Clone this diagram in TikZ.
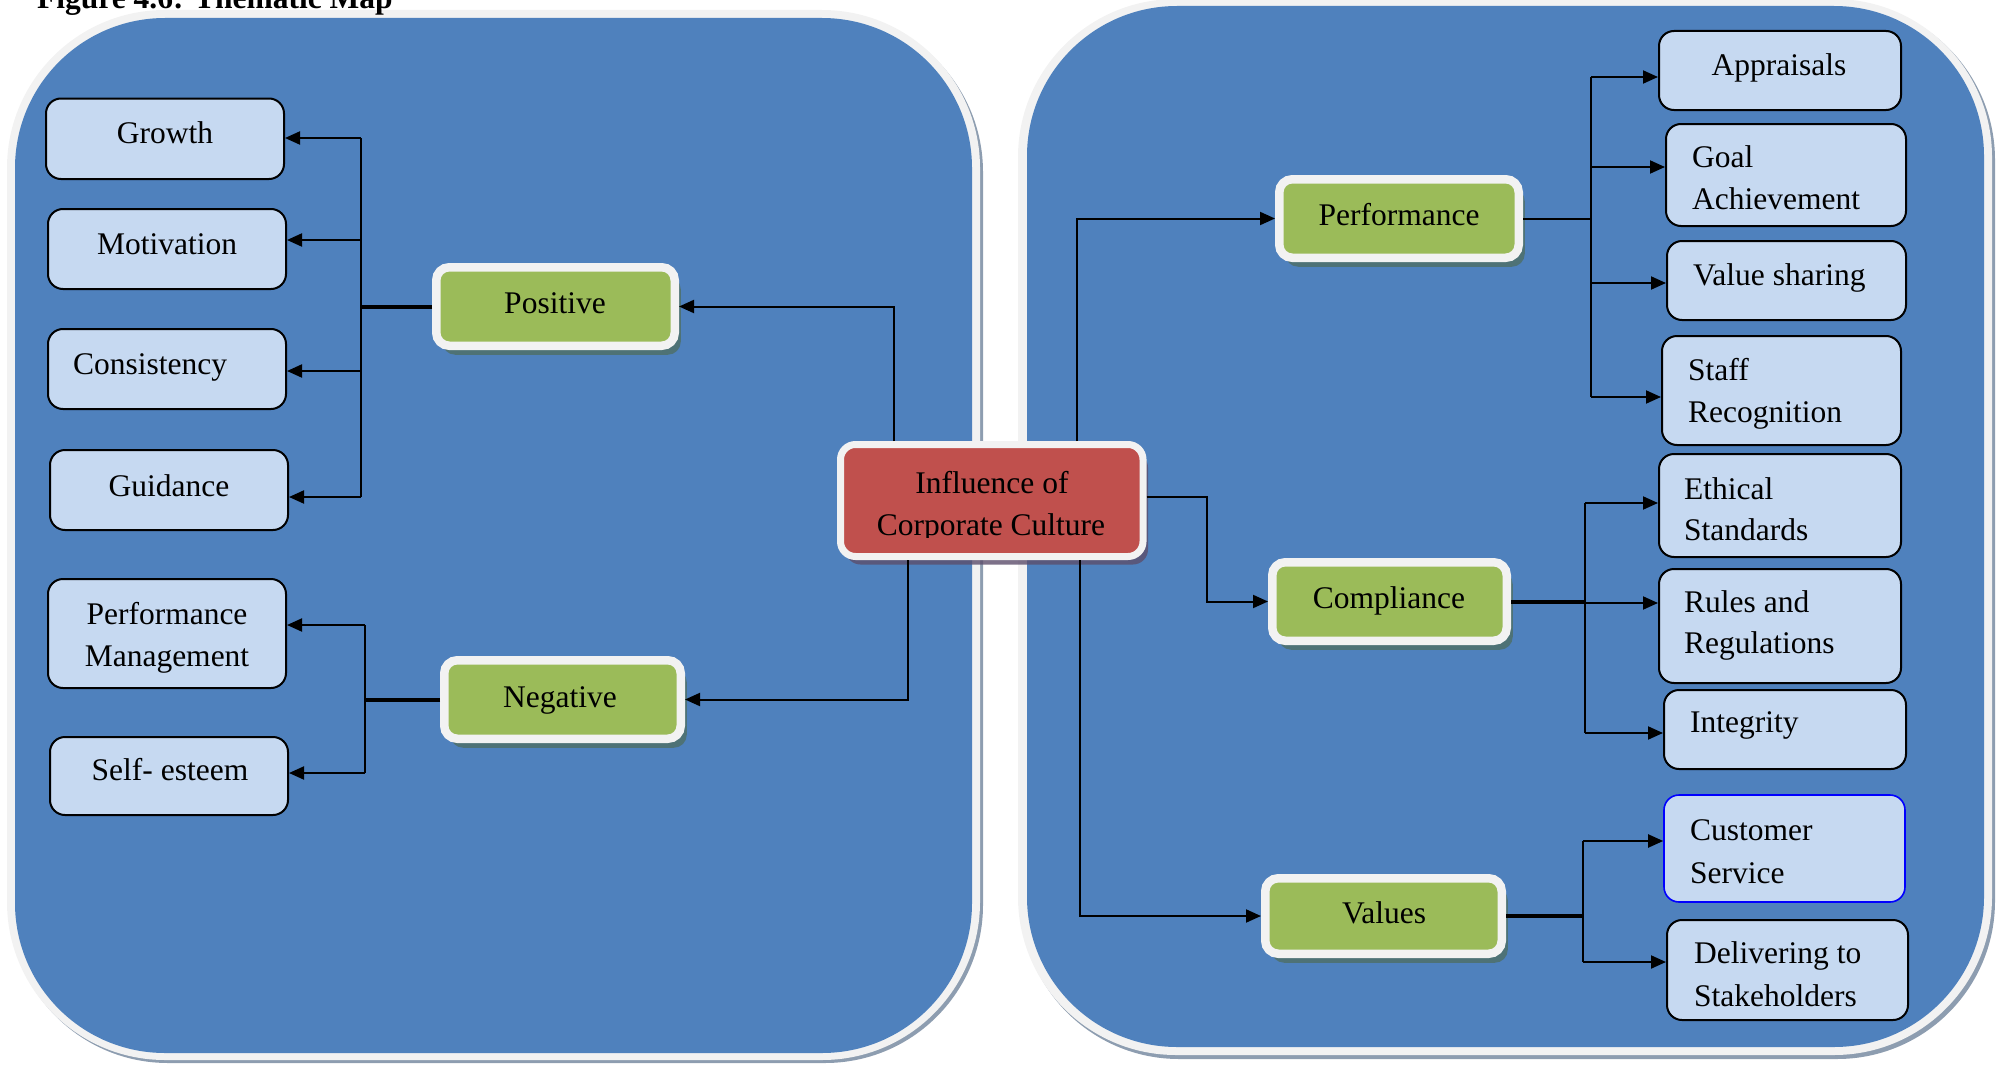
\documentclass[tikz,border=0pt]{standalone}
\usepackage{fontspec}
\setmainfont{Liberation Serif}
\usetikzlibrary{arrows.meta,fit,shadows}
\definecolor{panelblue}{RGB}{79,129,189}
\definecolor{ringwhite}{RGB}{242,242,242}
\definecolor{panelshade}{RGB}{141,157,176}
\definecolor{leaffill}{RGB}{198,217,241}
\definecolor{themegreen}{RGB}{155,187,89}
\definecolor{themered}{RGB}{192,80,77}
\definecolor{greenshade}{RGB}{78,114,118}
\definecolor{redshade}{RGB}{92,78,108}
\definecolor{edgeblue}{RGB}{0,0,255}

\begin{document}
\begin{tikzpicture}[x=1pt,y=-1pt,
  txt/.style={inner sep=0pt, font=\fontsize{31.5}{42}\selectfont},
  leaf/.style={draw=black, fill=leaffill, line width=2pt, rounded corners=15pt, inner sep=0pt},
  theme/.style={draw=ringwhite, fill=themegreen, line width=8.5pt, rounded corners=13pt, inner sep=0pt,
    drop shadow={shadow xshift=6pt, shadow yshift=-9pt, fill=greenshade, opacity=1}},
  core/.style={draw=ringwhite, fill=themered, line width=7pt, rounded corners=15pt, inner sep=0pt,
    drop shadow={shadow xshift=5pt, shadow yshift=-8pt, fill=redshade, opacity=0.8}},
  conn/.style={line width=2pt, -{Triangle[length=15pt,width=13pt]}},
  link/.style={line width=2pt},
  heavy/.style={line width=4pt},
]
\useasboundingbox (0,0) rectangle (1998,1065);

% background panels
\fill[panelshade, rounded corners=158pt] (10,14) rectangle (983,1063);
\fill[ringwhite, rounded corners=158pt] (7,10) rectangle (980,1060);
\fill[panelblue, rounded corners=150pt] (15,18) rectangle (972,1053);

\fill[panelshade, rounded corners=158pt] (1021,2) rectangle (1995,1059);
\fill[ringwhite, rounded corners=158pt] (1018,-1) rectangle (1992,1055);
\fill[panelblue, rounded corners=150pt] (1027,6) rectangle (1984,1047);

% caption
\node[inner sep=0pt, anchor=base west, font=\bfseries\fontsize{31.5}{42}\selectfont] (title) at (37,9) {Figure 4.6: Thematic Map};

% central theme
\node[core, fit={(840.5,444.5) (1143,556.5)}] (infl) {};
\node[txt, anchor=base] (infl-a) at (992,493) {Influence of};
\begin{scope}
  \clip (844,448) rectangle (1139,537.5);
  \node[txt, anchor=base] (infl-b) at (991,535) {Corporate Culture};
\end{scope}

% sub-themes
\node[theme, fit={(436.25,267.25) (674.75,345.75)}] (pos) {};
\node[txt, anchor=base] (pos-t) at (555,313) {Positive};
\node[theme, fit={(444.25,660.25) (680.75,738.75)}] (neg) {};
\node[txt, anchor=base] (neg-t) at (560,707) {Negative};
\node[theme, fit={(1279.25,179.25) (1518.75,257.75)}] (perf) {};
\node[txt, anchor=base] (perf-t) at (1399,225) {Performance};
\node[theme, fit={(1272.25,562.25) (1506.75,640.75)}] (comp) {};
\node[txt, anchor=base] (comp-t) at (1389,608) {Compliance};
\node[theme, fit={(1265.25,878.25) (1501.75,953.75)}] (val) {};
\node[txt, anchor=base] (val-t) at (1384,923) {Values};

% codes, left panel
\node[leaf, fit={(46,98.5) (284,179)}] (growth) {};
\node[txt, anchor=base] (growth-t) at (165,143) {Growth};
\node[leaf, fit={(48,209) (286,289)}] (motiv) {};
\node[txt, anchor=base] (motiv-t) at (167,254) {Motivation};
\node[leaf, fit={(48,329) (286,409)}] (consis) {};
\node[txt, anchor=base] (consis-t) at (150,374) {Consistency};
\node[leaf, fit={(50,450) (288,530)}] (guid) {};
\node[txt, anchor=base] (guid-t) at (169,496) {Guidance};
\node[leaf, fit={(48,579) (286,688)}] (perfm) {};
\node[txt, anchor=base] (perfm-a) at (167,624) {Performance};
\node[txt, anchor=base] (perfm-b) at (167,666) {Management};
\node[leaf, fit={(50,737) (288,815)}] (selfe) {};
\node[txt, anchor=base] (selfe-t) at (170,780) {Self- esteem};

% codes, right panel
\node[leaf, fit={(1659,31) (1901,110)}] (apr) {};
\node[txt, anchor=base] (apr-t) at (1779,75) {Appraisals};
\node[leaf, fit={(1666,124) (1906,226)}] (goal) {};
\node[txt, anchor=base west] (goal-a) at (1692,167) {Goal};
\node[txt, anchor=base west] (goal-b) at (1692,209) {Achievement};
\node[leaf, fit={(1667,241) (1906,320)}] (vshare) {};
\node[txt, anchor=base west] (vshare-t) at (1693,285) {Value sharing};
\node[leaf, fit={(1662,336) (1901,445)}] (staff) {};
\node[txt, anchor=base west] (staff-a) at (1688,380) {Staff};
\node[txt, anchor=base west] (staff-b) at (1688,422) {Recognition};
\node[leaf, fit={(1659,454) (1901,557)}] (ethic) {};
\node[txt, anchor=base west] (ethic-a) at (1684,499) {Ethical};
\node[txt, anchor=base west] (ethic-b) at (1684,540) {Standards};
\node[leaf, fit={(1659,569) (1901,683)}] (rules) {};
\node[txt, anchor=base west] (rules-a) at (1684,612) {Rules and};
\node[txt, anchor=base west] (rules-b) at (1684,653) {Regulations};
\node[leaf, fit={(1664,690) (1906,769)}] (integ) {};
\node[txt, anchor=base west] (integ-t) at (1690,732) {Integrity};
\node[leaf, draw=edgeblue, line width=1.6pt, fit={(1664,795) (1905,902)}] (cust) {};
\node[txt, anchor=base west] (cust-a) at (1690,840) {Customer};
\node[txt, anchor=base west] (cust-b) at (1690,883) {Service};
\node[leaf, fit={(1667,920) (1908,1020)}] (deliv) {};
\node[txt, anchor=base west] (deliv-a) at (1694,963) {Delivering to};
\node[txt, anchor=base west] (deliv-b) at (1694,1006) {Stakeholders};

% links from the central theme
\draw[conn] ([xshift=-98pt]infl.north) |- (pos.east);
\draw[conn] ([xshift=-84pt]infl.south) |- (neg.east);
\draw[conn] ([xshift=85pt]infl.north) |- (perf.west);
\draw[conn] ([yshift=3.5pt]infl.east) -- ++(60,0) |- (comp.west);
\draw[conn] ([xshift=88pt]infl.south) |- (val.west);

% Positive branch
\coordinate (pg) at (361,138);
\coordinate (pm) at (361,240);
\coordinate (pc) at (361,371);
\coordinate (pd) at (361,497);
\draw[heavy] (pos.west) -- (pos.west -| pg);
\draw[link] (pg) -- (pd);
\draw[conn] (pg) -- (pg -| growth.east);
\draw[conn] (pm) -- (pm -| motiv.east);
\draw[conn] (pc) -- (pc -| consis.east);
\draw[conn] (pd) -- (pd -| guid.east);

% Negative branch
\coordinate (na) at (365,625);
\coordinate (nb) at (365,773);
\draw[heavy] (neg.west) -- (neg.west -| na);
\draw[link] (na) -- (nb);
\draw[conn] (na) -- (na -| perfm.east);
\draw[conn] (nb) -- (nb -| selfe.east);

% Performance branch
\coordinate (fa) at (1591,77);
\coordinate (fb) at (1591,167);
\coordinate (fc) at (1591,283);
\coordinate (fd) at (1591,397);
\draw[link] (perf.east) -- (perf.east -| fa);
\draw[link] (fa) -- (fd);
\draw[conn] (fa) -- (fa -| apr.west);
\draw[conn] (fb) -- (fb -| goal.west);
\draw[conn] (fc) -- (fc -| vshare.west);
\draw[conn] (fd) -- (fd -| staff.west);

% Compliance branch
\coordinate (ca) at (1585,503);
\coordinate (cb) at (1585,603);
\coordinate (cc) at (1585,733);
\draw[heavy] (comp.east) -- (comp.east -| ca);
\draw[link] (ca) -- (cc);
\draw[conn] (ca) -- (ca -| ethic.west);
\draw[conn] (cb) -- (cb -| rules.west);
\draw[conn] (cc) -- (cc -| integ.west);

% Values branch
\coordinate (va) at (1583,841);
\coordinate (vb) at (1583,962);
\draw[heavy] (val.east) -- (val.east -| va);
\draw[link] (va) -- (vb);
\draw[conn] (va) -- (va -| cust.west);
\draw[conn] (vb) -- (vb -| deliv.west);
\end{tikzpicture}
\end{document}
